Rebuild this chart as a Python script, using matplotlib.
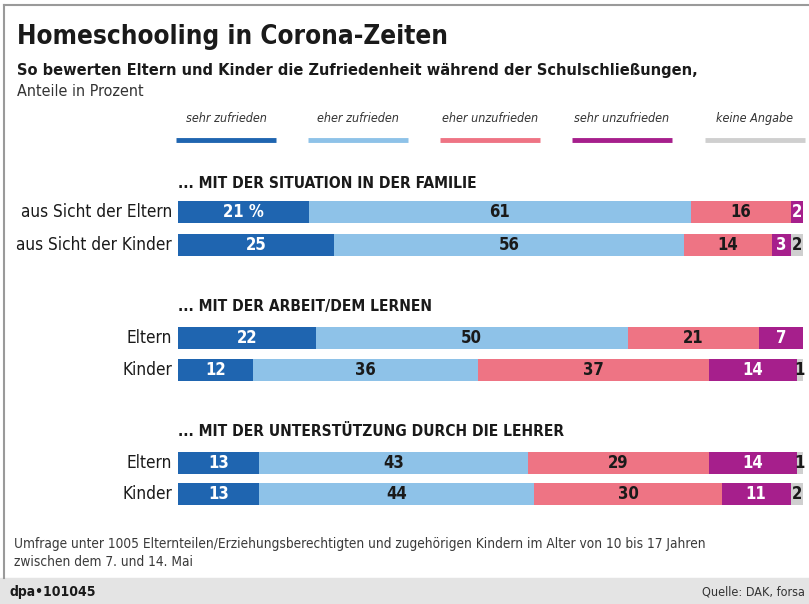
import matplotlib.pyplot as plt
from matplotlib.patches import Rectangle
from matplotlib.lines import Line2D
import numpy as np

# survey data (percent)
categories = ['sehr zufrieden', 'eher zufrieden', 'eher unzufrieden', 'sehr unzufrieden', 'keine Angabe']
sections = ['... MIT DER SITUATION IN DER FAMILIE',
            '... MIT DER ARBEIT/DEM LERNEN',
            '... MIT DER UNTERSTÜTZUNG DURCH DIE LEHRER']
row_labels = [['aus Sicht der Eltern', 'aus Sicht der Kinder'],
              ['Eltern', 'Kinder'],
              ['Eltern', 'Kinder']]
sehr_zufrieden = [21, 25, 22, 12, 13, 13]
eher_zufrieden = [61, 56, 50, 36, 43, 44]
eher_unzufrieden = [16, 14, 21, 37, 29, 30]
sehr_unzufrieden = [2, 3, 7, 14, 14, 11]
keine_angabe = [0, 2, 0, 1, 1, 2]

colors = ['#1f65b0', '#8ec2e8', '#ee7484', '#a61f8c', '#cfcfcf']
text_colors = ['white', '#1a1a1a', '#1a1a1a', 'white', '#1a1a1a']

W, H = 809, 604
plt.rcParams['font.family'] = ['DejaVu Sans']
plt.rcParams['font.stretch'] = 'condensed'

fig = plt.figure(figsize=(W / 100, H / 100), dpi=100)
fig.patch.set_facecolor('white')


def fx(x):
    return x / W


def fy(y):
    return 1 - y / H


# frame and footer band
bg = fig.add_axes([0, 0, 1, 1])
bg.set_xlim(0, W)
bg.set_ylim(H, 0)
bg.axis('off')
bg.add_patch(Rectangle((0, 578), W, 26, color='#e4e4e4', zorder=0))
bg.add_line(Line2D([4, W], [5, 5], color='#9a9a9a', lw=1.5))
bg.add_line(Line2D([4, 4], [5, 578], color='#9a9a9a', lw=1.5))

# titles
fig.text(fx(17), fy(37), 'Homeschooling in Corona-Zeiten', fontsize=18.7, fontweight='bold',
         va='center', color='#1a1a1a')
fig.text(fx(17), fy(70), 'So bewerten Eltern und Kinder die Zufriedenheit während der Schulschließungen,',
         fontsize=11.7, fontweight='bold', va='center', color='#1a1a1a')
fig.text(fx(17), fy(92), 'Anteile in Prozent', fontsize=11.5, va='center', color='#333333')

# legend
leg_x = [176, 308, 440, 572, 705]
for i, cat in enumerate(categories):
    x0 = leg_x[i]
    fig.text(fx(x0 + 50), fy(119), cat, fontsize=9, style='italic', ha='center', va='center',
             color='#333333')
    bg.add_line(Line2D([x0, x0 + 100], [140, 140], color=colors[i], lw=3.5, solid_capstyle='butt'))

# bars
ax = fig.add_axes([fx(178), 0, (803 - 178) / W, 1])
ax.set_xlim(0, 100)
ax.set_ylim(H, 0)
ax.axis('off')

data = np.array([sehr_zufrieden, eher_zufrieden, eher_unzufrieden, sehr_unzufrieden, keine_angabe])
header_y = [183, 306, 432]
row_y = [212, 245, 338, 370, 463, 494]

for s, title in enumerate(sections):
    ax.text(0, header_y[s], title, fontsize=11.2, fontweight='bold', va='center', color='#1a1a1a')
    for r in range(2):
        fig.text(fx(172), fy(row_y[2 * s + r]), row_labels[s][r], fontsize=12.3, ha='right',
                 va='center', color='#1a1a1a')

for j in range(len(row_y)):
    left = 0
    for i in range(len(categories)):
        v = data[i, j]
        if v == 0:
            continue
        ax.barh(row_y[j], v, left=left, height=22, color=colors[i], edgecolor='none')
        label = f'{v} %' if (i == 0 and j == 0) else str(v)
        ax.text(left + v / 2, row_y[j], label, ha='center', va='center', fontsize=12,
                fontweight='bold', color=text_colors[i], clip_on=False)
        left += v

# footnotes
fig.text(fx(14), fy(544), 'Umfrage unter 1005 Elternteilen/Erziehungsberechtigten und zugehörigen Kindern '
         'im Alter von 10 bis 17 Jahren', fontsize=9.8, va='center', color='#3a3a3a')
fig.text(fx(14), fy(562), 'zwischen dem 7. und 14. Mai', fontsize=9.8, va='center', color='#3a3a3a')
fig.text(fx(10), fy(592), 'dpa\u2022101045', fontsize=10, fontweight='bold', va='center', color='#1a1a1a')
fig.text(fx(805), fy(592), 'Quelle: DAK, forsa', fontsize=9, ha='right', va='center', color='#333333')

fig.savefig('out.png', dpi=100)
